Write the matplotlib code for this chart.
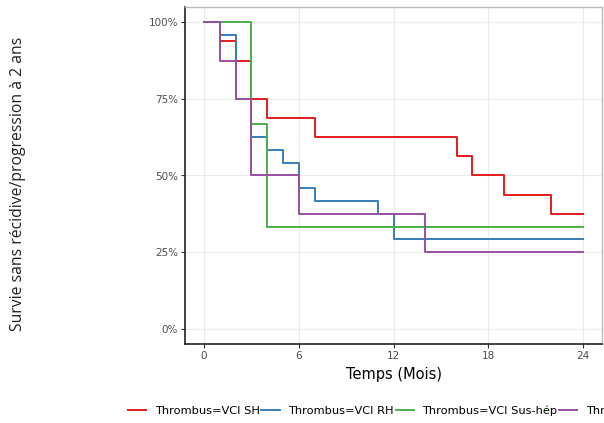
import matplotlib.pyplot as plt

# Kaplan-Meier steps (time in months, survival in %)
times_sh = [0, 1, 2, 3, 4, 7, 16, 17, 19, 22, 24]
surv_sh = [100, 93.75, 87.5, 75, 68.75, 62.5, 56.25, 50, 43.75, 37.5, 37.5]

times_rh = [0, 1, 2, 3, 4, 5, 6, 7, 11, 12, 24]
surv_rh = [100, 95.83, 75, 62.5, 58.33, 54.17, 45.83, 41.67, 37.5, 29.17, 29.17]

times_sus = [0, 3, 4, 24]
surv_sus = [100, 66.67, 33.33, 33.33]

times_mix = [0, 1, 2, 3, 6, 14, 24]
surv_mix = [100, 87.5, 75, 50, 37.5, 25, 25]

labels = ["Thrombus=VCI SH", "Thrombus=VCI RH", "Thrombus=VCI Sus-hép",
          "Thrombus=VCI Sus-hép+RH"]
colors = ["#E41A1C", "#377EB8", "#4DAF4A", "#984EA3"]
x_ticks = [0, 6, 12, 18, 24]
y_ticks = [0, 25, 50, 75, 100]

fig = plt.figure(figsize=(6.04, 4.23), dpi=100)
ax = fig.add_axes([185 / 604, 1 - 344 / 423, (602 - 185) / 604, (344 - 7) / 423])

series = [(times_sh, surv_sh), (times_rh, surv_rh),
          (times_sus, surv_sus), (times_mix, surv_mix)]
handles = []
for (t, s), lab, col in zip(series, labels, colors):
    h, = ax.step(t, s, where="post", color=col, lw=1.4, label=lab)
    handles.append(h)

ax.set_xlim(-1.2, 25.2)
ax.set_ylim(-5, 105)
ax.set_xticks(x_ticks)
ax.set_yticks(y_ticks)
ax.set_yticklabels([f"{v}%" for v in y_ticks])
ax.tick_params(labelsize=7.5, colors="#333333", labelcolor="#4D4D4D",
               length=3, width=0.8, pad=2)
ax.grid(True, color="#EBEBEB", lw=0.8)
ax.set_axisbelow(True)
for side in ["top", "right"]:
    ax.spines[side].set_color("#BBBBBB")
    ax.spines[side].set_linewidth(1.0)
for side in ["left", "bottom"]:
    ax.spines[side].set_color("#222222")
    ax.spines[side].set_linewidth(1.2)

ax.set_xlabel("Temps (Mois)", fontsize=10.5, labelpad=4)
fig.text(18 / 604, 1 - 184 / 423, "Survie sans récidive/progression à 2 ans",
         rotation=90, ha="center", va="center", fontsize=11.3,
         family="Open Sans", color="#222222")

fig.legend(handles=handles, labels=labels, loc="center left",
           bbox_to_anchor=(128 / 604, 1 - 411 / 423), ncol=4, frameon=False,
           fontsize=8.2, handlelength=1.6, handletextpad=0.75,
           columnspacing=0.15, borderpad=0, borderaxespad=0)

fig.savefig("out.png", dpi=100)
